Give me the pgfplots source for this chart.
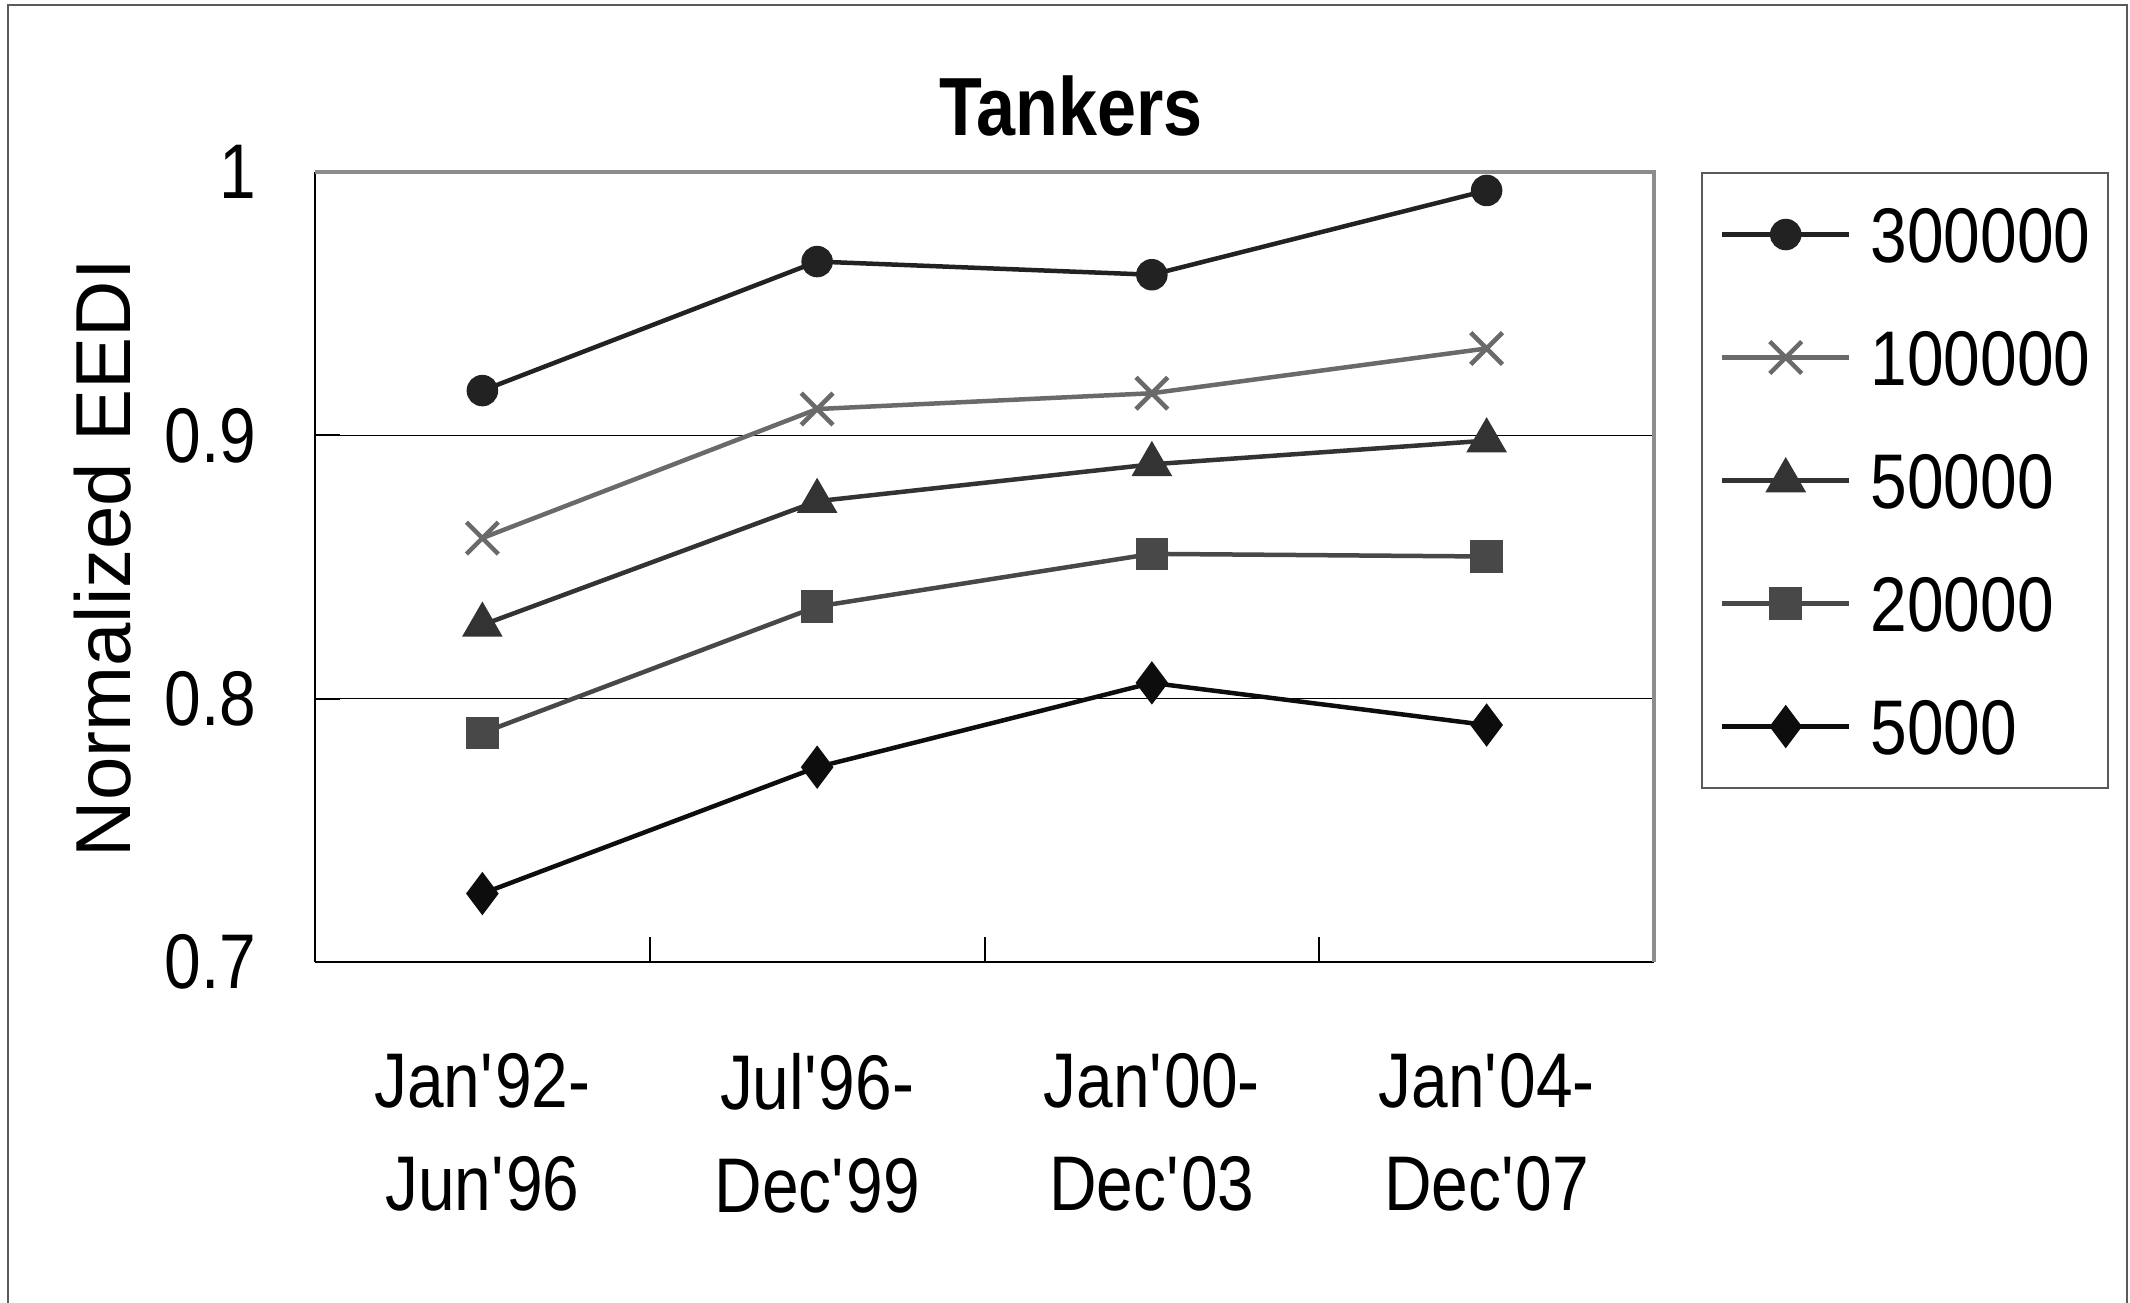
\documentclass[border=0pt]{standalone}
\usepackage{fontspec}
\setmainfont{Liberation Sans}[FakeStretch=0.85]
\newfontfamily\plainsans{Liberation Sans}
\usepackage{pgfplots}
\pgfplotsset{compat=1.18}

\definecolor{sA}{HTML}{222222}
\definecolor{sB}{HTML}{6A6A6A}
\definecolor{sC}{HTML}{333333}
\definecolor{sD}{HTML}{484848}
\definecolor{sE}{HTML}{0D0D0D}
\definecolor{frame}{HTML}{5A5A5A}
\definecolor{border}{HTML}{8C8C8C}

\newcommand{\lbl}{\fontsize{15.5}{20.6}\selectfont}
\newcommand{\q}{\textquotesingle}

\begin{document}
\begin{tikzpicture}
\path[use as bounding box] (0,0) rectangle (426pt,-260.4pt);
% outer chart frame
\draw[frame, line width=0.4pt] (1.6pt,-262pt) -- (1.6pt,-1pt) -- (425.4pt,-1pt) -- (425.4pt,-262pt);

\node[anchor=base, font=\bfseries\fontsize{16.5}{20}\selectfont] at (214.2pt,-27pt) {Tankers};
\node[rotate=90, anchor=base, font=\plainsans\fontsize{15.6}{18}\selectfont] at (26pt,-111.6pt) {Normalized EEDI};

\begin{axis}[
  at={(63pt,-192.4pt)}, anchor=south west,
  width=267.8pt, height=158pt, scale only axis,
  xmin=-0.5, xmax=3.5, ymin=0.7, ymax=1,
  clip=false,
  axis x line*=bottom, axis y line*=left,
  axis line style={black, line width=0.55pt},
  tick align=inside,
  major tick length=5pt,
  tick style={black, line width=0.4pt},
  xtick={0.5,1.5,2.5,3.5},
  xticklabels={{Jan\q92-\\Jun\q96},{Jul\q96-\\Dec\q99},{Jan\q00-\\Dec\q03},{Jan\q04-\\Dec\q07}},
  xticklabel style={align=center, anchor=north, inner sep=0pt, yshift=-18pt, xshift=-33.475pt, font=\lbl},
  ytick={0.7,0.8,0.9,1},
  yticklabels={0.7,0.8,0.9,1},
  yticklabel style={anchor=east, inner sep=0pt, xshift=-11.6pt, font=\lbl},
  /pgf/number format/assume math mode=true,
  ymajorgrids,
  grid style={black, line width=0.3pt},
  legend style={at={(1.0351,1)}, anchor=north west, draw=frame, line width=0.4pt,
    inner xsep=3.6pt, inner ysep=0pt, font=\lbl, row sep=0pt, column sep=3.8pt,
    nodes={inner sep=0pt, text height=17.8pt, text depth=6.8pt}},
  legend cell align=left,
  legend image code/.code={\draw[mark repeat=2,mark phase=2,#1] plot coordinates {(0pt,0pt) (12.7pt,0pt) (25.4pt,0pt)};},
]
% plot-area border on the top and right
\draw[border, line width=0.8pt] (rel axis cs:0,1) -- (rel axis cs:1,1) -- (rel axis cs:1,0);

\addplot[sA, line width=0.9pt, mark=*, mark size=2.7pt, mark options={fill=sA}]
  coordinates {(0,0.917) (1,0.966) (2,0.961) (3,0.993)};
\addlegendentry{300000}
\addplot[sB, line width=0.9pt, mark=x, mark size=4.5pt]
  coordinates {(0,0.861) (1,0.910) (2,0.916) (3,0.933)};
\addlegendentry{100000}
\addplot[sC, line width=0.9pt, mark=triangle*, mark size=3.8pt, mark options={fill=sC}]
  coordinates {(0,0.828) (1,0.875) (2,0.889) (3,0.898)};
\addlegendentry{50000}
\addplot[sD, line width=0.9pt, mark=square*, mark size=2.8pt, mark options={fill=sD}]
  coordinates {(0,0.787) (1,0.835) (2,0.855) (3,0.854)};
\addlegendentry{20000}
\addplot[sE, line width=0.9pt, mark=diamond*, mark size=3.6pt, mark options={fill=sE}]
  coordinates {(0,0.726) (1,0.774) (2,0.806) (3,0.790)};
\addlegendentry{5000}
\end{axis}
\end{tikzpicture}
\end{document}
